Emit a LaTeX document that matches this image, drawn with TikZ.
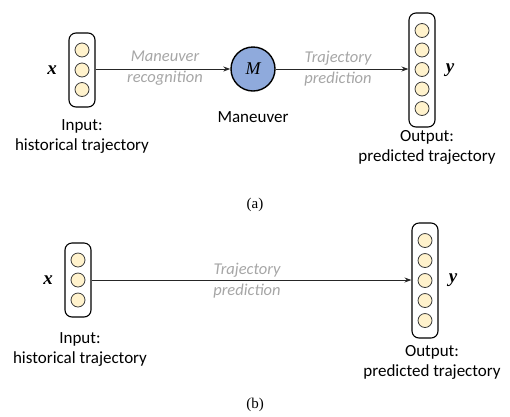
\documentclass[tikz,border=0pt]{standalone}
\usepackage{fontspec}
\setmainfont{Carlito}
\newfontfamily\seriffont{Liberation Serif}
\usetikzlibrary{arrows.meta}
\definecolor{cellfill}{HTML}{FFF2CC}
\definecolor{cellline}{HTML}{3A3A3A}
\definecolor{mfill}{HTML}{8FAADC}
\definecolor{lblgray}{HTML}{A6A6A6}
\tikzset{
  vecbox/.style={draw=black, line width=1.1pt, rounded corners=7pt, minimum width=26pt, inner sep=0pt},
  cell/.style={circle, draw=cellline, fill=cellfill, line width=0.8pt, minimum size=14pt, inner sep=0pt},
  mnode/.style={circle, draw=black, fill=mfill, line width=1.4pt, minimum size=44pt, inner sep=0pt, font=\seriffont\itshape\fontsize{18}{18}\selectfont},
  conn/.style={-{Stealth[length=7pt,width=5pt]}, line width=1pt, draw=black!85},
  arrlbl/.style={text=lblgray, font=\itshape\fontsize{16.5}{21}\selectfont, align=center},
  caption/.style={font=\fontsize{17}{20}\selectfont, align=center},
  varlbl/.style={font=\seriffont\bfseries\itshape\fontsize{19}{19}\selectfont},
  sublbl/.style={font=\seriffont\fontsize{15}{15}\selectfont}
}
\begin{document}
\begin{tikzpicture}[x=1pt,y=-1pt]
\useasboundingbox (0,0) rectangle (510,416);
% ---------- (a) ----------
\node[vecbox, minimum height=74pt] (ina) at (82,70) {};
\node[cell] (ia1) at (82,50) {};
\node[cell] (ia2) at (82,70) {};
\node[cell] (ia3) at (82,89.5) {};
\node[varlbl] (xa) at (52,70) {x};
\node[caption] (inca) at (82,136.5) {Input:\\historical trajectory};

\node[mnode] (m) at (253,69) {M};
\node[caption] (mlbl) at (253,117) {Maneuver};

\node[vecbox, minimum height=114pt] (outa) at (422,70) {};
\node[cell] (oa1) at (422,30.5) {};
\node[cell] (oa2) at (422,50) {};
\node[cell] (oa3) at (422,69.5) {};
\node[cell] (oa4) at (422,89) {};
\node[cell] (oa5) at (422,108.5) {};
\node[varlbl] (ya) at (450,70) {y};
\node[caption] (outca) at (427,147) {Output:\\predicted trajectory};

\draw[conn] (ina.east |- m.west) -- (m.west);
\draw[conn] (m.east) -- (outa.west |- m.east);
\node[arrlbl] (l1) at (165,68.5) {Maneuver\\recognition};
\node[arrlbl] (l2) at (338,68.5) {Trajectory\\prediction};
\node[sublbl] (capa) at (255,205) {(a)};

% ---------- (b) ----------
\node[vecbox, minimum height=74pt] (inb) at (78,280) {};
\node[cell] (ib1) at (78,260) {};
\node[cell] (ib2) at (78,280) {};
\node[cell] (ib3) at (78,300) {};
\node[varlbl] (xb) at (48,280) {x};
\node[caption] (incb) at (80,349) {Input:\\historical trajectory};

\node[vecbox, minimum height=115pt] (outb) at (425,280.5) {};
\node[cell] (ob1) at (425,240.5) {};
\node[cell] (ob2) at (425,260.5) {};
\node[cell] (ob3) at (425,280.5) {};
\node[cell] (ob4) at (425,300.5) {};
\node[cell] (ob5) at (425,320.5) {};
\node[varlbl] (yb) at (453,280) {y};
\node[caption] (outcb) at (432,362) {Output:\\predicted trajectory};

\draw[conn] (inb.east) -- (outb.west |- inb.east);
\node[arrlbl] (l3) at (247,280.5) {Trajectory\\prediction};
\node[sublbl] (capb) at (255,405) {(b)};
\end{tikzpicture}
\end{document}
